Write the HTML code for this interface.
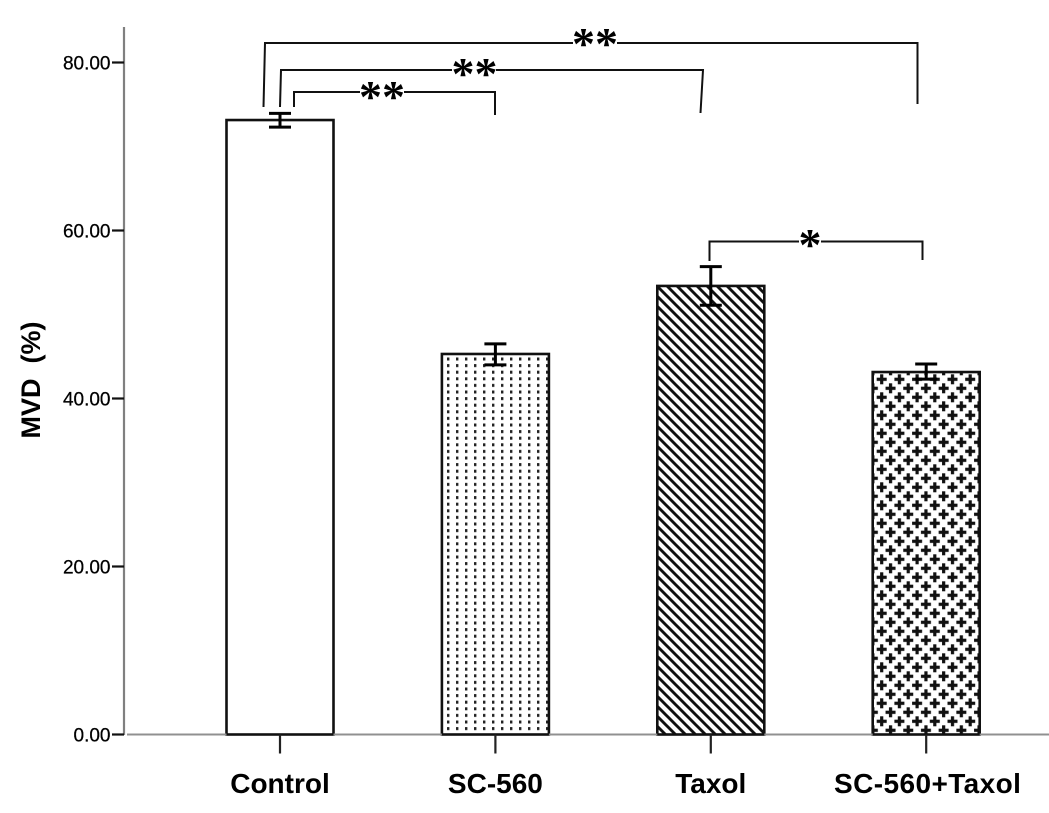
<!DOCTYPE html>
<html lang="en">
<head>
<meta charset="utf-8">
<title>MVD (%) by treatment</title>
<style>
html,body{margin:0;padding:0;background:#fff;}
svg{display:block;font-family:"Liberation Sans",Arial,sans-serif;}
.tick-label{font-size:19px;fill:#000;stroke:#000;stroke-width:0.25px;}
.cat-label{font-size:28px;font-weight:bold;fill:#000;}
.axis-title{font-size:27px;font-weight:bold;fill:#000;}
.bracket{fill:none;stroke:#111;stroke-width:2;}
.star{font-family:"Liberation Serif",serif;font-weight:bold;font-size:46px;fill:#000;text-anchor:middle;}
</style>
</head>
<body>
<svg id="chart" width="1049" height="813" viewBox="0 0 1049 813" xmlns="http://www.w3.org/2000/svg">
  <defs>
    <pattern id="pat-dots" patternUnits="userSpaceOnUse" x="446.5" y="356" width="9" height="6.6">
      <rect x="0.5" y="1.5" width="2.4" height="3" fill="#222"/>
    </pattern>
    <pattern id="pat-hatch" patternUnits="userSpaceOnUse" width="10" height="10" patternTransform="translate(657 286)">
      <path d="M-2.5,7.5 L2.5,12.5 M-2.5,-2.5 L12.5,12.5 M7.5,-2.5 L12.5,2.5" stroke="#111" stroke-width="2.9" fill="none"/>
    </pattern>
    <pattern id="pat-cross" patternUnits="userSpaceOnUse" x="872.7" y="370.3" width="17.7" height="18">
      <path d="M4,9 H14 M9,4 V14" stroke="#111" stroke-width="3.2" fill="none"/>
      <path d="M-4.85,18 H5.15 M0.15,13 V23 M12.85,18 H22.85 M17.85,13 V23 M-4.85,0 H5.15 M0.15,-5 V5 M12.85,0 H22.85 M17.85,-5 V5" stroke="#111" stroke-width="3.2" fill="none"/>
    </pattern>
  </defs>
  <g id="bars"></g>
  <g id="errors"></g>
  <g id="axes"></g>
  <text class="axis-title" transform="translate(40 380) rotate(-90)" text-anchor="middle" xml:space="preserve">MVD  (%)</text>

  <g>
    <path class="bracket" d="M263.5,107 L265,43 H917.5 V104"/>
    <path class="bracket" d="M280,107 L281,70 H703 L700.5,113"/>
    <path class="bracket" d="M294,107 V92 H495 V115"/>
    <path class="bracket" d="M709.5,261 V241.5 H922.5 V260"/>
    <rect x="573" y="30" width="44" height="24" fill="#fff"/>
    <rect x="452" y="58" width="44" height="24" fill="#fff"/>
    <rect x="360" y="82" width="44" height="22" fill="#fff"/>
    <rect x="799" y="230" width="22" height="24" fill="#fff"/>
    <text class="star" x="595" y="59">**</text>
    <text class="star" x="474.5" y="89">**</text>
    <text class="star" x="382" y="112">**</text>
    <text class="star" x="810" y="260">*</text>
  </g>
</svg>
<script>
const categories = ["Control", "SC-560", "Taxol", "SC-560+Taxol"];
const means = [73.15, 45.3, 53.4, 43.15];
const errorLow = [72.3, 44.0, 51.1, 42.3];
const errorHigh = [73.95, 46.5, 55.7, 44.1];
const fills = ["#fff", "url(#pat-dots)", "url(#pat-hatch)", "url(#pat-cross)"];
const yTicks = [0, 20, 40, 60, 80];
const yTickLabels = ["0.00", "20.00", "40.00", "60.00", "80.00"];

const NS = "http://www.w3.org/2000/svg";
function yScale(v) { return 734.5 - v * 8.4; }
function xScale(i) { return 280 + i * 215.4; }
const BAR_W = 107;

function make(parent, tag, attrs) {
  const el = document.createElementNS(NS, tag);
  for (const k in attrs) el.setAttribute(k, attrs[k]);
  parent.appendChild(el);
  return el;
}
function slug(s) { return s.toLowerCase().replace(/[^a-z0-9]+/g, "-"); }

const barsG = document.getElementById("bars");
const errG = document.getElementById("errors");
const axesG = document.getElementById("axes");

categories.forEach(function (c, i) {
  const cx = xScale(i);
  const top = yScale(means[i]);
  const bar = make(barsG, "rect", {
    x: cx - BAR_W / 2, y: top, width: BAR_W, height: yScale(0) - top,
    fill: "#fff", stroke: "none"
  });
  
  
  const face = make(barsG, "rect", {
    x: cx - BAR_W / 2, y: top, width: BAR_W, height: yScale(0) - top,
    fill: fills[i], stroke: "#111", "stroke-width": 2.6
  });
  
  

  const lo = yScale(errorLow[i]);
  const hi = yScale(errorHigh[i]);
  const err = make(errG, "path", {
    d: "M" + (cx - 11) + "," + hi + " H" + (cx + 11) +
       " M" + cx + "," + hi + " V" + lo +
       " M" + (cx - 11) + "," + lo + " H" + (cx + 11),
    stroke: "#000", "stroke-width": 3, fill: "none"
  });
  
  

  const tick = make(axesG, "line", {
    x1: cx, x2: cx, y1: yScale(0), y2: yScale(0) + 19, stroke: "#222", "stroke-width": 2.2
  });
  
  

  const label = make(axesG, "text", {
    x: cx + (i === 3 ? 1.5 : 0), y: 793, "text-anchor": "middle", "class": "cat-label",
    "letter-spacing": i === 3 ? 0.42 : 0
  });
  
  
  label.textContent = c;
});

const yAxis = make(axesG, "line", { x1: 124, x2: 124, y1: 27, y2: yScale(0) + 0.5, stroke: "#808080", "stroke-width": 2.2 });



const xAxisLeft = make(axesG, "line", { x1: 127, x2: xScale(0) - BAR_W / 2, y1: yScale(0), y2: yScale(0), stroke: "#909090", "stroke-width": 2 });



categories.forEach(function (c, i) {
  const start = xScale(i) + BAR_W / 2;
  const end = i < categories.length - 1 ? xScale(i + 1) - BAR_W / 2 : 1049;
  const seg = make(axesG, "line", { x1: start, x2: end, y1: yScale(0), y2: yScale(0), stroke: "#909090", "stroke-width": 2 });
  
  
});

yTicks.forEach(function (v, i) {
  const y = yScale(v);
  const t = make(axesG, "line", { x1: 112, x2: 124, y1: y, y2: y, stroke: "#111", "stroke-width": 2.2 });
  
  
  const l = make(axesG, "text", { x: 110.5, y: y + 7, "text-anchor": "end", "class": "tick-label" });
  
  
  l.textContent = yTickLabels[i];
});
</script>
</body>
</html>
